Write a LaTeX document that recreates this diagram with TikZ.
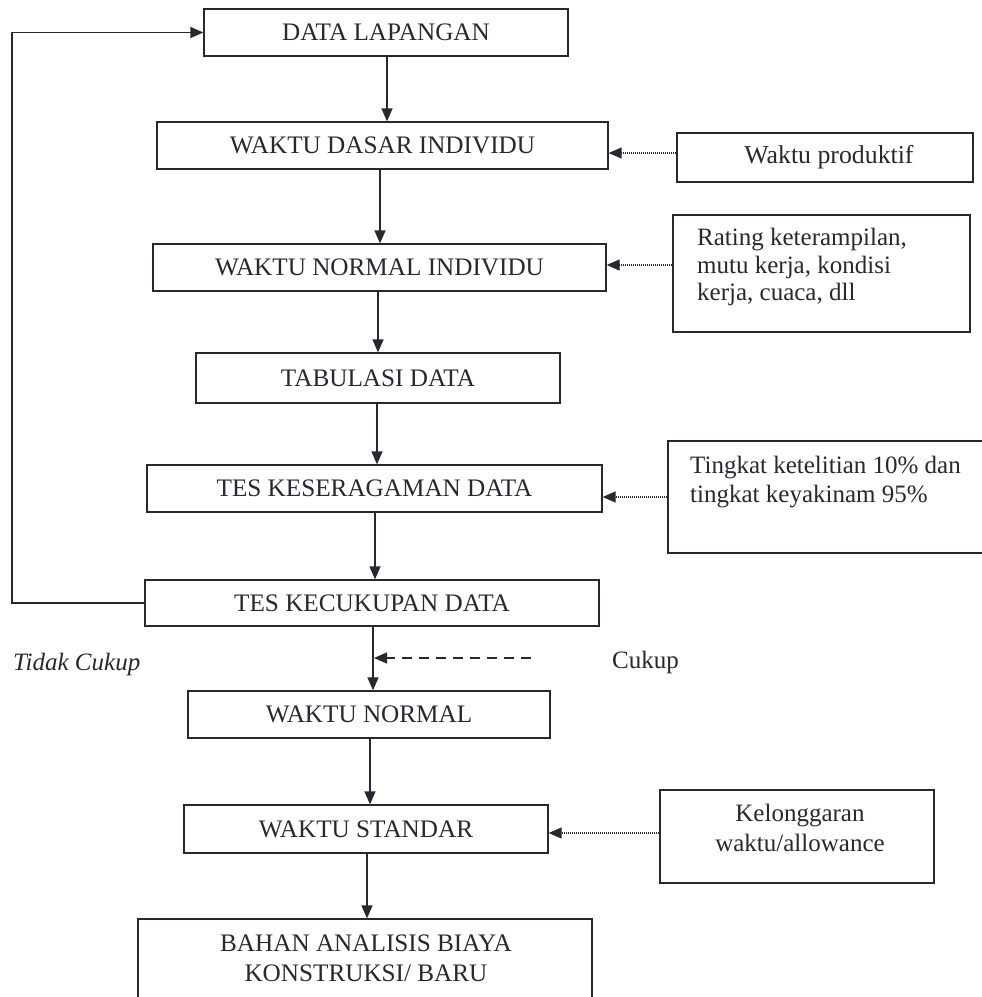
\documentclass[tikz,border=0pt]{standalone}
\usepackage{fontspec}
\setmainfont{Liberation Serif}
\usetikzlibrary{arrows.meta}
\definecolor{ink}{RGB}{40,40,48}
\begin{document}
\begin{tikzpicture}[x=1pt,y=-1pt,
  box/.style={draw=ink, line width=1.3pt, inner sep=0pt, text=ink, font=\fontsize{25.2}{28}\selectfont},
  sidebox/.style={draw=ink, line width=1.3pt, inner sep=0pt, text=ink, font=\fontsize{25.8}{28}\selectfont},
  sidetext/.style={text=ink, inner sep=0pt, font=\fontsize{25}{28}\selectfont},
  flow/.style={draw=ink, line width=1.3pt, line join=miter, -{Triangle[length=13pt,width=11pt]}},
  feed/.style={draw=ink, line width=1.2pt, dash pattern=on 1pt off 1pt, -{Triangle[length=13pt,width=11pt]}},
  cukupline/.style={draw=ink, line width=1.3pt, dash pattern=on 10pt off 7pt, -{Triangle[length=13pt,width=11pt]}},
]
\path[use as bounding box, clip] (0,0) rectangle (982,997);
\fill[white] (0,0) rectangle (982,997);

% main boxes
\node[box, minimum width=364pt, minimum height=47pt] (b1) at (386,32.5) {DATA LAPANGAN};
\node[box, minimum width=451pt, minimum height=47pt] (b2) at (382.5,145.5) {WAKTU DASAR INDIVIDU};
\node[box, minimum width=453pt, minimum height=47pt] (b3) at (379.5,267.5) {WAKTU NORMAL INDIVIDU};
\node[box, minimum width=364pt, minimum height=50pt] (b4) at (378,378) {TABULASI DATA};
\node[box, minimum width=455pt, minimum height=47pt] (b5) at (374.5,488.5) {TES KESERAGAMAN DATA};
\node[box, minimum width=454pt, minimum height=46pt] (b6) at (372,603) {TES KECUKUPAN DATA};
\node[box, minimum width=362pt, minimum height=47pt] (b7) at (369,714.5) {WAKTU NORMAL};
\node[box, minimum width=364pt, minimum height=48pt] (b8) at (366,829) {WAKTU STANDAR};
\node[box, minimum width=454pt, minimum height=100pt] (b9) at (365,969) {};
\node[sidetext, align=center, font=\fontsize{25.2}{30}\selectfont] (b9t) at (366,958) {BAHAN ANALISIS BIAYA\\KONSTRUKSI/ BARU};

% side boxes
\node[sidebox, minimum width=296pt, minimum height=49pt] (s1) at (825,157.5) {\hspace{8pt}Waktu produktif};
\node[sidebox, minimum width=297pt, minimum height=117pt] (s2) at (821.5,273.5) {};
\node[sidetext, align=left, anchor=north west, font=\fontsize{25}{27.5}\selectfont] (s2t) at (697,228) {Rating keterampilan,\\mutu kerja, kondisi\\kerja, cuaca, dll};
\node[sidebox, minimum width=332pt, minimum height=112pt] (s3) at (834,497) {};
\node[sidetext, align=left, anchor=north west, font=\fontsize{25}{29}\selectfont] (s3t) at (690,456) {Tingkat ketelitian 10\% dan\\tingkat keyakinam 95\%};
\node[sidebox, minimum width=274pt, minimum height=93pt] (s4) at (797,836.5) {};
\node[sidetext, align=center, font=\fontsize{25}{30}\selectfont] (s4t) at (800,828) {Kelonggaran\\waktu/allowance};

% labels
\node[sidetext, anchor=base west, font=\fontsize{25}{28}\selectfont\itshape] (tc) at (13,670) {Tidak Cukup};
\node[sidetext, anchor=base west] (ck) at (612,668) {Cukup};

% vertical flow
\coordinate (x1) at (387,0);
\coordinate (x2) at (380,0);
\coordinate (x3) at (378,0);
\coordinate (x4) at (377,0);
\coordinate (x5) at (375,0);
\coordinate (x6) at (373,0);
\coordinate (x7) at (370,0);
\coordinate (x8) at (367,0);
\draw[flow] (b1.south -| x1) -- (b2.north -| x1);
\draw[flow] (b2.south -| x2) -- (b3.north -| x2);
\draw[flow] (b3.south -| x3) -- (b4.north -| x3);
\draw[flow] (b4.south -| x4) -- (b5.north -| x4);
\draw[flow] (b5.south -| x5) -- (b6.north -| x5);
\draw[flow] (b6.south -| x6) -- (b7.north -| x6);
\draw[flow] (b7.south -| x7) -- (b8.north -| x7);
\draw[flow] (b8.south -| x8) -- (b9.north -| x8);

% side inputs
\coordinate (ya) at (0,153);
\coordinate (yb) at (0,265);
\coordinate (yc) at (0,497);
\coordinate (yd) at (0,833);
\draw[feed] (s1.west |- ya) -- (b2.east |- ya);
\draw[feed] (s2.west |- yb) -- (b3.east |- yb);
\draw[feed] (s3.west |- yc) -- (b5.east |- yc);
\draw[feed] (s4.west |- yd) -- (b8.east |- yd);

% cukup
\coordinate (ck1) at (531,658);
\coordinate (ck2) at (374,658);
\draw[cukupline] (ck1) -- (ck2);

% feedback loop
\coordinate (fb) at (12,0);
\draw[flow] (b6.west) -- (b6.west -| fb) -- (b1.west -| fb) -- (b1.west);
\end{tikzpicture}
\end{document}
